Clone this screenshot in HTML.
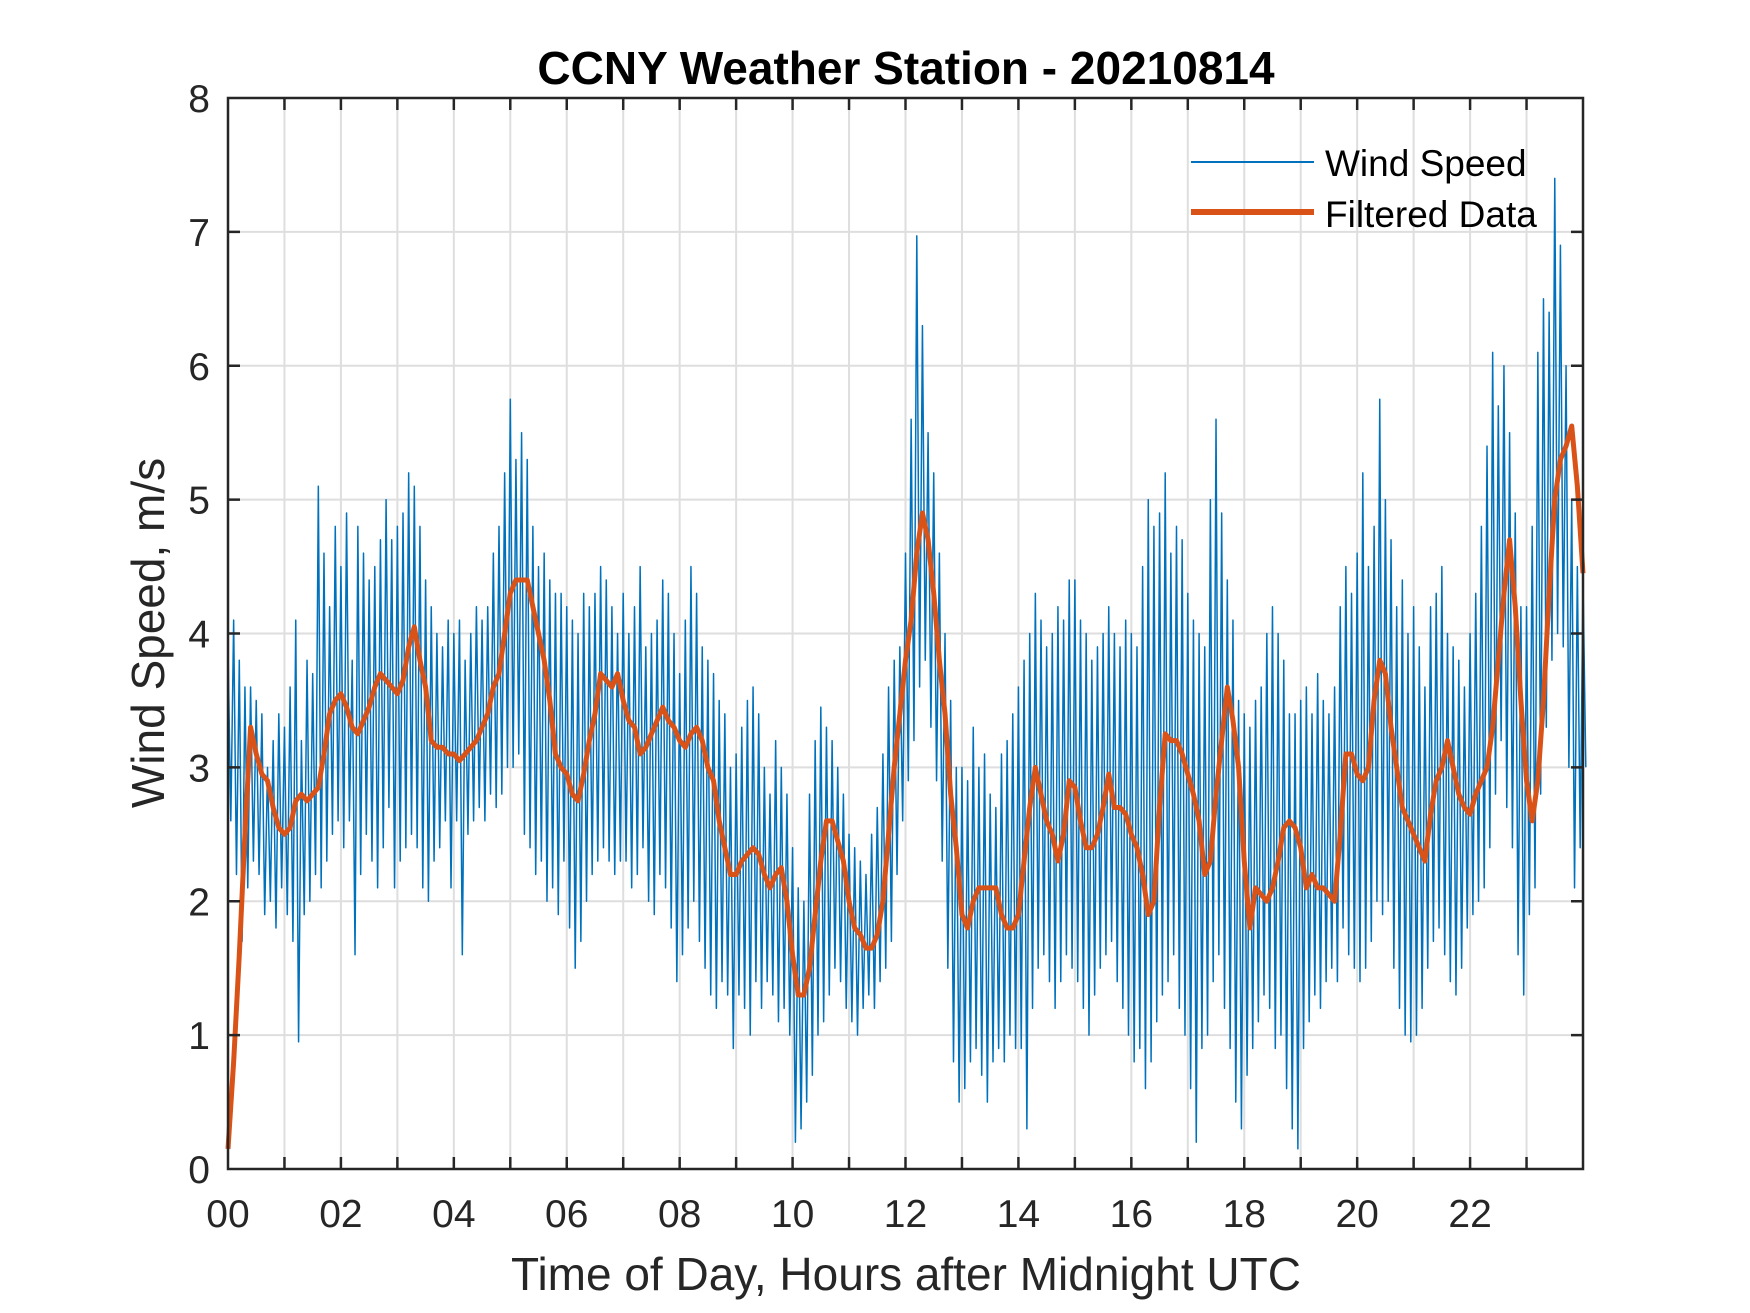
<!DOCTYPE html>
<html><head><meta charset="utf-8"><style>
html,body{margin:0;padding:0;background:#fff;}
svg{display:block;font-family:"Liberation Sans",Arial,sans-serif;}
</style></head><body>
<svg id="chart" width="1750" height="1313" viewBox="0 0 1750 1313" xmlns="http://www.w3.org/2000/svg">
<rect width="1750" height="1313" fill="#fff"/>
<g id="grid"></g>
<g id="series"></g>
<g id="axes"></g>
<text x="906" y="84" text-anchor="middle" font-size="46" font-weight="bold" fill="#000">CCNY Weather Station - 20210814</text>
<text x="906" y="1290" text-anchor="middle" font-size="46" fill="#262626">Time of Day, Hours after Midnight UTC</text>
<text transform="translate(164,633) rotate(-90)" text-anchor="middle" font-size="46" fill="#262626">Wind Speed, m/s</text>
<g>
<line x1="1191" y1="162" x2="1314" y2="162" stroke="#0072BD" stroke-width="2"/>
<text x="1325" y="176" font-size="37" fill="#000">Wind Speed</text>
<line x1="1191" y1="212" x2="1314" y2="212" stroke="#D95319" stroke-width="6"/>
<text x="1325" y="227" font-size="37" fill="#000">Filtered Data</text>
</g>
</svg>
<script>
const xTicks = [0,2,4,6,8,10,12,14,16,18,20,22];
const xTickLabels = ["00","02","04","06","08","10","12","14","16","18","20","22"];
const yTicks = [0,1,2,3,4,5,6,7,8];
const rawHi = [
3.9,4.1,3.8,3.6,3.6,3.5,3.4,3.0,3.2,3.4,
3.3,3.6,4.1,3.2,3.8,3.7,5.1,4.6,4.2,4.8,
4.5,4.9,3.8,4.8,4.6,4.4,4.5,4.7,5.0,4.7,
4.8,4.9,5.2,5.1,4.8,4.4,4.2,4.0,3.9,4.1,
4.0,4.1,3.8,4.0,4.2,4.1,4.2,4.6,4.8,5.2,
5.75,5.3,5.5,5.3,4.8,4.5,4.6,4.4,4.3,4.3,
4.2,4.1,4.0,4.3,4.2,4.3,4.5,4.4,4.2,4.0,
4.3,4.0,4.2,4.5,3.9,4.0,4.1,4.4,4.3,4.0,
3.7,4.1,4.5,4.3,3.9,3.8,3.7,3.5,3.4,3.0,
3.1,3.3,3.5,3.6,3.4,3.0,2.8,3.2,3.0,2.8,
2.4,2.1,2.0,2.8,3.2,3.45,3.3,3.2,3.0,2.8,
2.5,2.4,2.3,2.2,2.5,2.7,3.1,3.6,3.8,3.9,
4.6,5.6,6.97,6.3,5.5,5.2,4.6,4.0,3.5,3.0,
3.0,2.9,3.3,3.0,3.1,2.8,2.7,3.1,3.2,3.4,
3.6,3.8,4.0,4.3,4.1,3.9,4.0,4.2,4.1,4.4,
4.4,4.1,4.0,3.8,3.9,4.0,4.2,4.0,3.9,4.1,
4.0,3.9,4.5,5.0,4.8,4.9,5.2,4.6,4.8,4.7,
4.3,4.1,4.0,3.9,5.0,5.6,4.9,4.4,4.1,3.5,
3.4,3.3,3.5,3.6,4.0,4.2,4.0,3.8,3.4,3.4,
3.5,3.6,3.4,3.7,3.5,3.4,3.6,4.2,4.5,4.3,
4.6,5.2,4.5,4.8,5.75,5.0,4.7,4.2,4.4,4.0,
4.2,3.9,3.6,4.2,4.3,4.5,4.0,3.9,3.8,3.6,
4.0,4.3,4.8,5.4,6.1,5.7,6.0,5.5,4.9,4.2,
4.2,4.8,6.1,6.5,6.4,7.4,6.9,6.0,5.0,4.5,
4.4];
const rawLo = [
2.6,2.2,1.7,2.1,2.3,2.2,1.9,2.0,1.8,2.1,
1.9,1.7,0.95,1.9,2.0,2.2,2.1,2.3,2.5,2.6,
2.4,2.6,1.6,2.2,2.5,2.3,2.1,2.4,2.7,2.1,
2.3,2.4,2.5,2.4,2.1,2.0,2.3,2.4,2.6,2.1,
2.6,1.6,2.5,2.6,2.7,2.6,2.8,2.7,2.8,3.0,
3.0,3.1,2.5,2.4,2.2,2.3,2.0,2.1,1.9,2.3,
1.8,1.5,1.7,2.0,2.2,2.3,2.4,2.3,2.2,2.3,
2.3,2.1,2.2,2.4,2.0,1.9,2.2,2.1,1.8,1.4,
1.6,1.8,2.0,1.7,1.5,1.3,1.2,1.4,1.3,0.9,
1.3,1.2,1.0,1.4,1.2,1.4,1.3,1.1,1.2,1.0,
0.2,0.3,0.5,0.7,1.0,1.1,1.3,1.5,1.4,1.2,
1.1,1.0,1.2,1.3,1.2,1.4,1.5,1.7,2.2,2.6,
2.9,3.2,3.6,3.8,3.3,2.9,2.3,1.5,0.8,0.5,
0.6,0.8,0.9,0.7,0.5,0.8,0.9,0.8,1.0,0.9,
0.9,0.3,1.2,1.5,1.6,1.4,1.2,1.4,1.6,1.5,
1.4,1.2,1.0,1.3,1.5,1.6,1.7,1.4,1.2,1.0,
0.8,0.9,0.6,0.8,1.1,1.3,1.4,1.6,1.2,1.0,
0.6,0.2,0.9,1.0,1.4,1.6,1.2,0.9,0.5,0.3,
0.7,0.9,1.1,1.3,1.2,0.9,1.0,0.6,0.3,0.15,
0.9,1.1,1.3,1.2,1.4,1.5,1.4,1.8,1.6,1.5,
1.4,1.5,1.7,2.0,1.9,2.0,1.5,1.2,1.0,0.95,
1.0,1.2,1.5,1.7,1.8,1.6,1.4,1.3,1.5,1.8,
1.9,2.0,2.1,2.4,2.8,3.2,2.7,2.4,1.6,1.3,
1.9,2.1,2.8,3.3,3.8,4.0,3.9,3.0,2.1,2.4,
3.0];
const filtered = [
0.15,0.8,1.6,2.5,3.3,3.1,2.95,2.9,2.7,2.55,
2.5,2.55,2.75,2.8,2.75,2.8,2.85,3.1,3.4,3.5,
3.55,3.45,3.3,3.25,3.35,3.45,3.6,3.7,3.65,3.6,
3.55,3.65,3.9,4.05,3.8,3.6,3.2,3.15,3.15,3.1,
3.1,3.05,3.1,3.15,3.2,3.3,3.4,3.6,3.7,4.0,
4.3,4.4,4.4,4.4,4.2,4.0,3.8,3.5,3.1,3.0,
2.95,2.8,2.75,2.95,3.2,3.4,3.7,3.65,3.6,3.7,
3.5,3.35,3.3,3.1,3.15,3.25,3.35,3.45,3.35,3.3,
3.2,3.15,3.25,3.3,3.2,3.0,2.9,2.6,2.4,2.2,
2.2,2.3,2.35,2.4,2.35,2.2,2.1,2.2,2.25,2.0,
1.6,1.3,1.3,1.5,1.9,2.3,2.6,2.6,2.45,2.3,
2.0,1.8,1.75,1.65,1.65,1.75,2.0,2.5,3.0,3.4,
3.8,4.1,4.6,4.9,4.7,4.3,3.8,3.4,2.8,2.4,
1.9,1.8,2.0,2.1,2.1,2.1,2.1,1.9,1.8,1.8,
1.9,2.3,2.7,3.0,2.8,2.6,2.5,2.3,2.5,2.9,
2.85,2.6,2.4,2.4,2.5,2.7,2.95,2.7,2.7,2.65,
2.5,2.4,2.2,1.9,2.0,2.7,3.25,3.2,3.2,3.1,
2.95,2.8,2.6,2.2,2.3,2.8,3.2,3.6,3.35,3.0,
2.3,1.8,2.1,2.05,2.0,2.1,2.3,2.55,2.6,2.55,
2.4,2.1,2.2,2.1,2.1,2.05,2.0,2.5,3.1,3.1,
2.95,2.9,3.0,3.5,3.8,3.7,3.3,3.0,2.7,2.6,
2.5,2.4,2.3,2.65,2.9,3.0,3.2,3.0,2.8,2.7,
2.65,2.8,2.9,3.0,3.3,3.8,4.3,4.7,4.2,3.5,
2.9,2.6,2.9,3.5,4.3,5.0,5.3,5.4,5.55,5.1,
4.45];
const STEP = 0.1;

const L=228,R=1583,T=98,B=1169;
const xS = h => L + h/24*(R-L);
const yS = v => B - v/8*(B-T);
const NS="http://www.w3.org/2000/svg";
const grid=document.getElementById('grid'), axes=document.getElementById('axes'), series=document.getElementById('series');
function mk(tag,parent){const e=document.createElementNS(NS,tag);parent.appendChild(e);return e;}

for(let h=1;h<24;h++){
  const g=mk('line',grid);
  
  
  g.setAttribute('x1',xS(h));g.setAttribute('x2',xS(h));g.setAttribute('y1',T);g.setAttribute('y2',B);
  g.setAttribute('stroke','#dedede');g.setAttribute('stroke-width','2');
  for(const [y1,y2] of [[B,B-12],[T,T+12]]){
    const t=mk('line',axes);
    
    
    t.setAttribute('x1',xS(h));t.setAttribute('x2',xS(h));t.setAttribute('y1',y1);t.setAttribute('y2',y2);
    t.setAttribute('stroke','#262626');t.setAttribute('stroke-width','2.5');
  }
}
yTicks.forEach(v=>{
  if(v>0&&v<8){
    const g=mk('line',grid);
    
    
    g.setAttribute('x1',L);g.setAttribute('x2',R);g.setAttribute('y1',yS(v));g.setAttribute('y2',yS(v));
    g.setAttribute('stroke','#dedede');g.setAttribute('stroke-width','2');
    for(const [x1,x2] of [[L,L+12],[R,R-12]]){
      const t=mk('line',axes);
      
      
      t.setAttribute('x1',x1);t.setAttribute('x2',x2);t.setAttribute('y1',yS(v));t.setAttribute('y2',yS(v));
      t.setAttribute('stroke','#262626');t.setAttribute('stroke-width','2.5');
    }
  }
  const tx=mk('text',axes);
  
  
  tx.setAttribute('x',210);tx.setAttribute('y',yS(v)+14);tx.setAttribute('text-anchor','end');
  tx.setAttribute('font-size','39');tx.setAttribute('fill','#262626');tx.textContent=v;
});
xTicks.forEach((h,i)=>{
  const tx=mk('text',axes);
  
  
  tx.setAttribute('x',xS(h));tx.setAttribute('y',1227);tx.setAttribute('text-anchor','middle');
  tx.setAttribute('font-size','39');tx.setAttribute('fill','#262626');tx.textContent=xTickLabels[i];
});

let pts=[];
for(let i=0;i<rawHi.length;i++){
  pts.push(xS(i*STEP)+','+yS(rawHi[i]));
  if(i<rawLo.length) pts.push(xS(i*STEP+STEP/2)+','+yS(rawLo[i]));
}
const raw=mk('polyline',series);


raw.setAttribute('points',pts.join(' '));
raw.setAttribute('fill','none');raw.setAttribute('stroke','#0072BD');raw.setAttribute('stroke-width','1.5');raw.setAttribute('stroke-linejoin','round');

const fp=filtered.map((v,i)=>xS(i*STEP)+','+yS(v)).join(' ');
const fl=mk('polyline',series);


fl.setAttribute('points',fp);
fl.setAttribute('fill','none');fl.setAttribute('stroke','#D95319');fl.setAttribute('stroke-width','5');fl.setAttribute('stroke-linejoin','round');

const box=mk('rect',axes);


box.setAttribute('x',L);box.setAttribute('y',T);box.setAttribute('width',R-L);box.setAttribute('height',B-T);
box.setAttribute('fill','none');box.setAttribute('stroke','#262626');box.setAttribute('stroke-width','2.5');
</script>
</body></html>
